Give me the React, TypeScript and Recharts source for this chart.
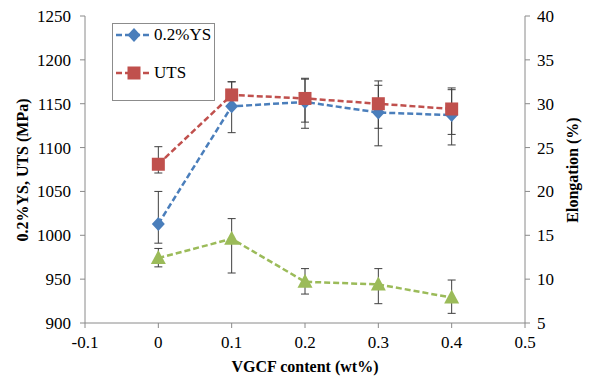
import { ComposedChart, Line, XAxis, YAxis, ErrorBar, Legend } from "recharts";

// VGCF content (wt%)
const content = [0, 0.1, 0.2, 0.3, 0.4];
// 0.2% yield strength (MPa), error as [minus, plus]
const ys = [1013, 1147, 1152, 1140, 1137];
const ysErr = [[22, 37], [30, 28], [30, 26], [38, 31], [34, 29]];
// ultimate tensile strength (MPa)
const uts = [1081, 1160, 1156, 1150, 1144];
const utsErr = [[10, 20], [12, 15], [27, 23], [28, 26], [29, 24]];
// elongation (%)
const elong = [12.4, 14.6, 9.7, 9.4, 7.9];
const elongErr = [[1.0, 1.1], [3.9, 2.3], [1.4, 1.5], [2.2, 1.8], [1.8, 2.0]];

const xTicks = [-0.1, 0, 0.1, 0.2, 0.3, 0.4, 0.5];
const leftTicks = [900, 950, 1000, 1050, 1100, 1150, 1200, 1250];
const rightTicks = [5, 10, 15, 20, 25, 30, 35, 40];

const BLUE = "#4a7ebb";
const RED = "#c0504d";
const GREEN = "#9bbb59";
const FONT = "'Liberation Serif', 'DejaVu Serif', serif";

const data = content.map((c, i) => ({
  x: c,
  ys: ys[i],
  ysErr: ysErr[i],
  uts: uts[i],
  utsErr: utsErr[i],
  elong: elong[i],
  elongErr: elongErr[i],
}));

const Diamond = ({ cx, cy, fill }: any) => (
  <path d={`M${cx},${cy - 7}L${cx + 6.5},${cy}L${cx},${cy + 7}L${cx - 6.5},${cy}Z`} fill={fill} />
);
const Square = ({ cx, cy, fill }: any) => (
  <rect x={cx - 6.5} y={cy - 6.5} width={13} height={13} fill={fill} />
);
const Triangle = ({ cx, cy, fill }: any) => (
  <path d={`M${cx},${cy - 8}L${cx + 7.5},${cy + 6}L${cx - 7.5},${cy + 6}Z`} fill={fill} />
);

const markers: Record<string, any> = { ys: Diamond, uts: Square };

const LegendBox = ({ payload }: any) => (
  <div
    style={{
      width: 103,
      height: 78,
      border: "1px solid #8c8c8c",
      background: "#fff",
      boxSizing: "border-box",
      fontFamily: FONT,
      fontSize: 17,
      color: "#000",
      textAlign: "left",
    }}
  >
    {(payload || [])
      .filter((p: any) => markers[p.dataKey])
      .map((p: any, i: number) => {
        const M = markers[p.dataKey];
        return (
          <div key={p.value} style={{ display: "flex", alignItems: "center", height: 20, marginTop: i === 0 ? 1 : 18 }}>
            <svg width={38} height={20} style={{ marginLeft: 2 }}>
              <line x1={1} y1={10} x2={36} y2={10} stroke={p.color} strokeWidth={2.5} strokeDasharray="6 3" />
              <M cx={19} cy={10} fill={p.color} />
            </svg>
            <span style={{ marginLeft: 1 }}>{p.value}</span>
          </div>
        );
      })}
  </div>
);

const titleStyle: any = {
  position: "absolute",
  fontFamily: FONT,
  fontSize: 16,
  fontWeight: "bold",
  color: "#000",
  whiteSpace: "nowrap",
  transform: "translate(-50%, -50%) rotate(-90deg)",
  lineHeight: "18px",
};

export default function App() {
  const tick = { fontFamily: FONT, fontSize: 17, fill: "#000" };
  const axisLine = { stroke: "#8a8a8a" };
  return (
    <div style={{ position: "absolute", left: 0, top: 0, width: 592, height: 378, background: "#fff" }}>
      <ComposedChart width={592} height={378} data={data} margin={{ top: 16, right: 0, left: 0, bottom: 0 }}>
        <XAxis
          dataKey="x"
          type="number"
          domain={[-0.1, 0.5]}
          ticks={xTicks}
          tick={tick}
          axisLine={axisLine}
          tickLine={axisLine}
          tickSize={5}
          tickMargin={8}
          height={55}
        />
        <YAxis
          yAxisId="left"
          domain={[900, 1250]}
          ticks={leftTicks}
          tick={tick}
          axisLine={axisLine}
          tickLine={axisLine}
          tickSize={5}
          tickMargin={9}
          width={85}
        />
        <YAxis
          yAxisId="right"
          orientation="right"
          domain={[5, 40]}
          ticks={rightTicks}
          tick={tick}
          axisLine={axisLine}
          tickLine={axisLine}
          tickSize={5}
          tickMargin={7}
          width={67}
        />
        <Legend
          layout="horizontal"
          verticalAlign="middle"
          align="center"
          wrapperStyle={{ position: "absolute", left: 112, top: 23, width: 103, height: 78, margin: 0, padding: 0 }}
          content={<LegendBox />}
        />
        <Line
          yAxisId="right"
          dataKey="elong"
          name="Elongation"
          stroke={GREEN}
          strokeWidth={2.5}
          strokeDasharray="6 3"
          dot={(p: any) => <Triangle key={p.index} cx={p.cx} cy={p.cy} fill={GREEN} />}
          legendType="none"
          isAnimationActive={false}
        >
          <ErrorBar dataKey="elongErr" direction="y" width={4} stroke="#3f3f3f" strokeWidth={1} />
        </Line>
        <Line
          yAxisId="left"
          dataKey="ys"
          name="0.2%YS"
          stroke={BLUE}
          strokeWidth={2.5}
          strokeDasharray="6 3"
          dot={(p: any) => <Diamond key={p.index} cx={p.cx} cy={p.cy} fill={BLUE} />}
          isAnimationActive={false}
        >
          <ErrorBar dataKey="ysErr" direction="y" width={4} stroke="#3f3f3f" strokeWidth={1} />
        </Line>
        <Line
          yAxisId="left"
          dataKey="uts"
          name="UTS"
          stroke={RED}
          strokeWidth={2.5}
          strokeDasharray="6 3"
          dot={(p: any) => <Square key={p.index} cx={p.cx} cy={p.cy} fill={RED} />}
          isAnimationActive={false}
        >
          <ErrorBar dataKey="utsErr" direction="y" width={4} stroke="#3f3f3f" strokeWidth={1} />
        </Line>
      </ComposedChart>
      <div style={{ ...titleStyle, left: 23, top: 170 }}>0.2%YS, UTS (MPa)</div>
      <div style={{ ...titleStyle, left: 573, top: 170 }}>Elongation (%)</div>
      <div style={{ ...titleStyle, transform: "translate(-50%, -50%)", left: 305, top: 367 }}>VGCF content (wt%)</div>
    </div>
  );
}
